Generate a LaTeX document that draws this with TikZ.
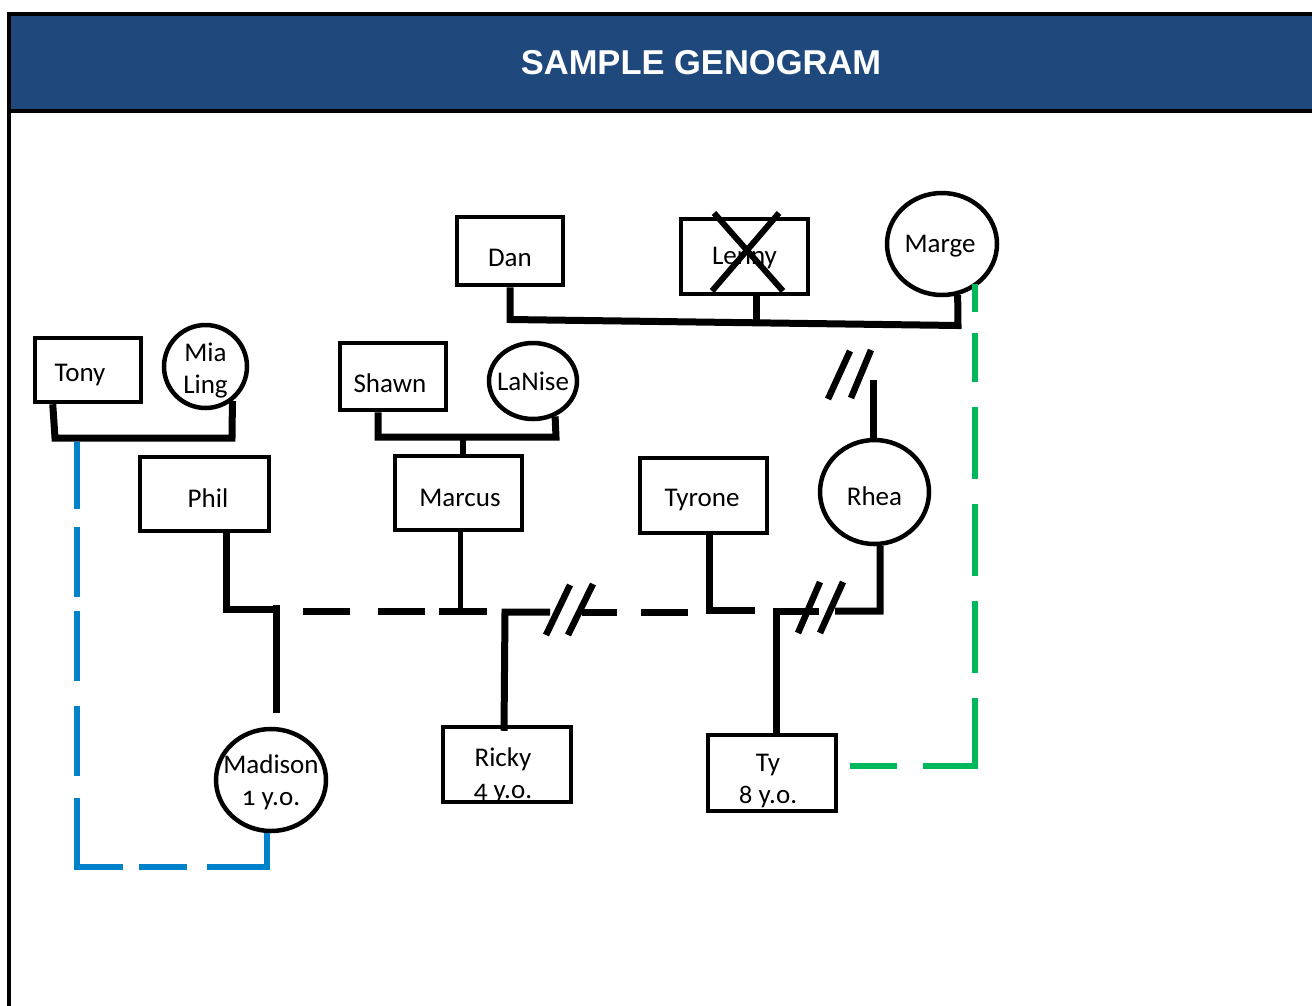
\documentclass[tikz,border=0pt]{standalone}
\usepackage{fontspec}
\setmainfont{Carlito}[Numbers=OldStyle]
\newfontfamily\titlefont{Liberation Sans}
\usetikzlibrary{shapes.geometric,calc}
\definecolor{hdrblue}{RGB}{31,73,125}
\definecolor{relblue}{RGB}{0,130,202}
\definecolor{relgreen}{RGB}{0,184,92}
\newcommand\gfont{\fontsize{27pt}{32pt}\selectfont}
\tikzset{
  conn/.style={line width=7pt, line cap=butt, line join=miter},
  slash/.style={line width=6.5pt},
  male/.style={draw, line width=4.5pt, rectangle, inner sep=0pt},
  female/.style={draw, line width=4.5pt, ellipse, inner sep=0pt},
  txt/.style={font=\gfont, align=center, inner sep=0pt, text=black},
  bluerel/.style={line width=6.5pt, draw=relblue, line join=miter},
  greenrel/.style={line width=6.5pt, draw=relgreen, line join=miter},
}
\begin{document}
\begin{tikzpicture}[x=1pt,y=-1pt]
\useasboundingbox (0,0) rectangle (1312,1005);
% header
\fill[hdrblue] (9,14) rectangle (1320,111);
\draw[line width=4pt] (9,1010) -- (9,14) -- (1320,14);
\draw[line width=4pt] (9,111) -- (1320,111);
\node[font=\titlefont\fontsize{34.5pt}{40pt}\selectfont\bfseries, text=white] (title) at (701,63) {SAMPLE GENOGRAM};

% people
\node[male, minimum width=106pt, minimum height=68pt, label={[txt,yshift=-7pt]center:Dan}] (Dan) at (510,251) {};
\node[male, minimum width=127pt, minimum height=75pt, label={[txt,yshift=-2pt]center:Lenny}] (Lenny) at (744.5,256.5) {};
\node[female, minimum width=110pt, minimum height=102pt, label={[txt,xshift=-2pt,yshift=-2.5pt]center:Marge}] (Marge) at (942,244) {};
\node[male, minimum width=106pt, minimum height=64pt, label={[txt,xshift=-8pt,yshift=-5pt]center:Tony}] (Tony) at (88,370) {};
\node[female, minimum width=83pt, minimum height=83pt, label={[txt,yshift=-4pt]center:Mia\\Ling}] (Mia) at (205.5,366.5) {};
\node[male, minimum width=106pt, minimum height=67pt, label={[txt,xshift=-3pt,yshift=-6.5pt]center:Shawn}] (Shawn) at (393,376.5) {};
\node[female, minimum width=88pt, minimum height=76pt, label={[txt,yshift=-0.5pt]center:LaNise}] (LaNise) at (533,381) {};
\node[male, minimum width=129pt, minimum height=74pt, label={[txt,xshift=3.5pt,yshift=-4.5pt]center:Phil}] (Phil) at (204.5,494) {};
\node[male, minimum width=127pt, minimum height=74pt, label={[txt,xshift=1.5pt,yshift=-5pt]center:Marcus}] (Marcus) at (458.5,493) {};
\node[male, minimum width=127pt, minimum height=75pt, label={[txt,xshift=-1.5pt,yshift=-4.5pt]center:Tyrone}] (Tyrone) at (703.5,495.5) {};
\node[female, minimum width=109pt, minimum height=104pt, label={[txt,yshift=-4.5pt]center:Rhea}] (Rhea) at (874.5,492) {};
\node[female, minimum width=110pt, minimum height=102pt, label={[txt,yshift=-2.5pt]center:Madison\\1 y.o.}] (Madison) at (271,780) {};
\node[male, minimum width=128pt, minimum height=75pt, label={[txt,xshift=-4pt,yshift=-11pt]center:Ricky\\4 y.o.}] (Ricky) at (507,764.5) {};
\node[male, minimum width=128pt, minimum height=76pt, label={[txt,xshift=-4pt,yshift=-8pt]center:Ty\\8 y.o.}] (Ty) at (772,773) {};

% deceased cross on Lenny
\draw[line width=6pt] (714,213) -- (783,291);
\draw[line width=6pt] (779,213) -- (712,291);

% Dan - Lenny - Marge
\draw[conn] (Dan.south) -- (510,319.5) -- (958,325.5) -- (Marge.-73);
\draw[conn] ([xshift=12pt]Lenny.south) -- ++(0,27);
% Rhea link to parents, broken
\draw[conn] ([xshift=-1.5pt]Rhea.north) -- (873,380);
\draw[slash] (828,399) -- (850,351);
\draw[slash] (851,398) -- (871,350);

% Tony - Mia Ling
\draw[conn] ([xshift=20pt]Tony.south west) -- (55,438) -- (232,438) -- (Mia.-52);
% Shawn - LaNise
\draw[conn] ([xshift=-15pt]Shawn.south) -- (378,437) -- (556,437) -- (LaNise.-58);
\draw[line width=5.5pt] (463,437) -- ([xshift=4.5pt]Marcus.north);

% Phil - Madison
\draw[conn] ([xshift=21.5pt]Phil.south) -- (226,609) -- (274,609);
\draw[conn] (276,605) -- ([xshift=5pt,yshift=14pt]Madison.north);
% Phil - Marcus (dashed)
\draw[conn, dash pattern=on 47pt off 28pt on 47pt off 14pt on 48pt off 20pt] (303,611) -- (487,611);
\draw[line width=5pt] ([xshift=1.5pt]Marcus.south) -- (460,611);
% Marcus/Ricky - Tyrone (divorced)
\draw[conn] ([xshift=-3pt,yshift=-6pt]Ricky.north) -- (505,612) -- (550,612);
\draw[slash] (546,635) -- (570,585);
\draw[slash] (568,635) -- (593,584);
\draw[conn] (582,612) -- (617,612);
\draw[conn] (641,612) -- (688,612);
\draw[conn] ([xshift=5.5pt]Tyrone.south) -- (709,610) -- (755,610);
% Ty - Rhea (divorced)
\draw[conn] ([xshift=4pt]Ty.north) -- (776,611) -- (819,611);
\draw[slash] (798,633) -- (820,582);
\draw[slash] (820,633) -- (843,582);
\draw[conn] (835,611) -- (880,611) -- (Rhea.-84);

% relationship lines
\coordinate (bstart) at (77,442);
\draw[bluerel, dash pattern=on 67pt off 18pt on 70pt off 14pt on 70pt off 25pt on 70pt off 22pt on 115pt off 16pt on 48pt off 20pt on 96pt off 50pt]
  (bstart) -- (77,867) -- (267,867) -- ([xshift=-4pt]Madison.south);
\coordinate (gstart) at (850,766);
\coordinate (gend) at (975,284);
\draw[greenrel, dash pattern=on 47pt off 26pt on 120pt off 25pt on 72pt off 25pt on 72pt off 25pt on 72pt off 25pt on 49pt off 21pt on 28pt off 50pt]
  (gstart) -- (975,766) -- (gend);
\end{tikzpicture}
\end{document}
